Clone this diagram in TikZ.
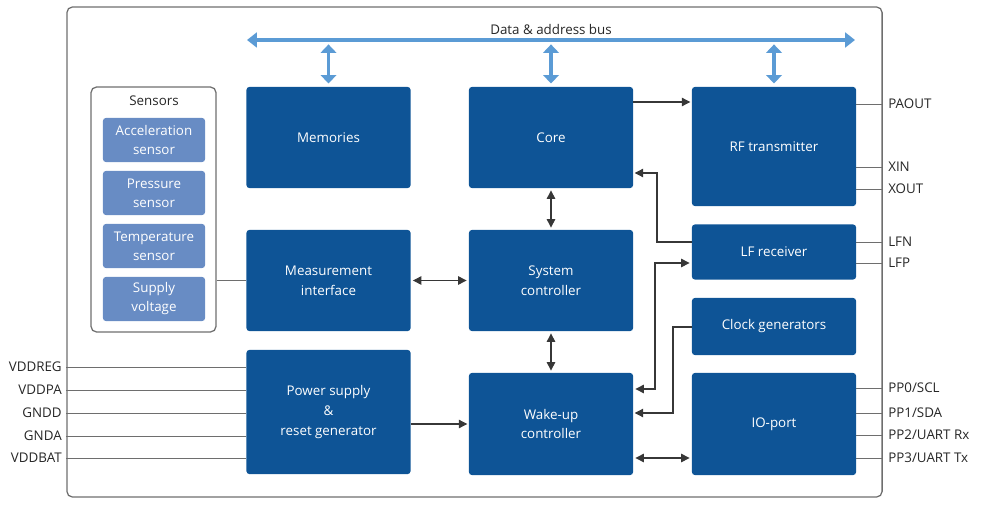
\documentclass[tikz,border=0pt]{standalone}
\usepackage{fontspec}
\setmainfont{Open Sans}
\usetikzlibrary{positioning, arrows.meta}
\definecolor{chipblue}{RGB}{14,84,150}
\definecolor{sensblue}{RGB}{104,140,196}
\definecolor{busblue}{RGB}{91,155,213}
\definecolor{wiregray}{RGB}{55,55,55}
\definecolor{pingray}{RGB}{110,110,110}

\begin{document}
\begin{tikzpicture}[
  x=0.025cm, y=-0.025cm,
  font=\fontsize{9.5}{14}\selectfont,
  block/.style={rectangle, rounded corners=2pt, fill=chipblue, text=white,
                minimum width=4.1cm, minimum height=2.525cm, align=center,
                inner sep=0pt},
  sensbox/.style={rectangle, rounded corners=2pt, fill=sensblue, text=white,
                  minimum width=2.55cm, minimum height=1.1cm, align=center,
                  inner sep=0pt, font=\fontsize{9.5}{13.5}\selectfont},
  frame/.style={rectangle, rounded corners=4pt, draw=pingray, line width=0.9pt,
                inner sep=0pt},
  arr/.style={-{Triangle[length=6pt, width=6pt]}, draw=wiregray, line width=0.75pt,
              shorten >=1pt},
  dbl/.style={{Triangle[length=6pt, width=6pt]}-{Triangle[length=6pt, width=6pt]},
              draw=wiregray, line width=0.75pt, shorten >=1.5pt, shorten <=1.5pt},
  pinline/.style={draw=pingray, line width=0.7pt},
  pinlbl/.style={inner sep=0pt, text=black!85},
  busline/.style={{Triangle[length=7pt, width=10.5pt]}-{Triangle[length=7pt, width=10.5pt]},
                  draw=busblue, line width=3.2pt},
  busdrop/.style={{Triangle[length=6pt, width=11pt]}-{Triangle[length=6pt, width=11pt]},
                  draw=busblue, line width=2.6pt, shorten <=0.11cm, shorten >=0.08cm}
]
\useasboundingbox (0,0) rectangle (985,512);

% chip outline
\node[frame, minimum width=20.375cm, minimum height=12.25cm] (chip) at (474.5,252) {};

% function blocks
\node[block] (mem)  at (328.5,137.5) {Memories};
\node[block] (core) at (551,137.5)   {Core};
\node[block, minimum height=2.975cm] (rf) at (774,146.5) {RF transmitter};
\node[block] (meas) at (328.5,280.5) {Measurement\\interface};
\node[block] (sys)  at (551,280.5)   {System\\controller};
\node[block, minimum height=1.375cm] (lf)  at (774,252)   {LF receiver};
\node[block, minimum height=1.425cm] (clk) at (774,326.5) {Clock generators};
\node[block, minimum height=3.1cm]   (pwr) at (328.5,412) {Power supply\\\&\\reset generator};
\node[block, minimum height=2.55cm]  (wake) at (551,424)  {Wake-up\\controller};
\node[block, minimum height=2.55cm]  (io)   at (774,424)  {IO-port};

% sensors
\node[frame, minimum width=3.125cm, minimum height=6.125cm] (sens) at (153.5,209.5) {};
\node[text=black!85] (senstitle) at (154,101) {Sensors};
\node[sensbox] (acc)  at (154,140) {Acceleration\\sensor};
\node[sensbox] (pres) at (154,193) {Pressure\\sensor};
\node[sensbox] (temp) at (154,246) {Temperature\\sensor};
\node[sensbox] (supv) at (154,299) {Supply\\voltage};
\draw[pinline] (sens.east |- meas.west) -- (meas.west);

% data & address bus
\coordinate (busL) at (247,40);
\coordinate (busR) at (855,40);
\draw[busline] (busL) -- (busR);
\node[text=black!85] (buslbl) at (551,29) {Data \& address bus};
\foreach \blk in {mem, core, rf}
  \draw[busdrop] (\blk.north |- busL) -- (\blk.north);

% internal connections
\coordinate (lfbend) at (657,173);
\coordinate (wkbend) at (655,389);
\coordinate (ckbend) at (673,327);
\draw[arr] (core.east |- 0,102) -- (rf.west |- 0,102);
\draw[arr] (lf.west |- 0,242) -| (lfbend) -- (core.east |- lfbend);
\draw[dbl] (core.south) -- (sys.north);
\draw[dbl] (meas.east) -- (sys.west);
\draw[dbl] (sys.south) -- (wake.north);
\draw[arr] (pwr.east |- wake.west) -- (wake.west);
\draw[dbl] (wake.east |- 0,458) -- (io.west |- 0,458);
\draw[dbl] (wake.east |- wkbend) -- (wkbend) |- (lf.west |- 0,263);
\draw[arr] (clk.west |- ckbend) -- (ckbend) |- (wake.east |- 0,413);

% pins, right side
\foreach \blk/\lbl/\y [count=\i] in {rf/PAOUT/104, rf/XIN/167, rf/XOUT/189,
    lf/LFN/242, lf/LFP/263, io/{PP0/SCL}/388, io/{PP1/SDA}/413,
    io/{PP2/UART Rx}/435, io/{PP3/UART Tx}/458} {
  \draw[pinline] (\blk.east |- 0,\y) -- (chip.east |- 0,\y);
  \node[pinlbl, anchor=west] (rpin\i) at (888,\y) {\lbl};
}

% pins, left side
\foreach \lbl/\y [count=\i] in {VDDREG/367, VDDPA/390, GNDD/413, GNDA/436, VDDBAT/458} {
  \draw[pinline] (chip.west |- 0,\y) -- (pwr.west |- 0,\y);
  \node[pinlbl, anchor=east] (lpin\i) at (62,\y) {\lbl};
}
\end{tikzpicture}
\end{document}
